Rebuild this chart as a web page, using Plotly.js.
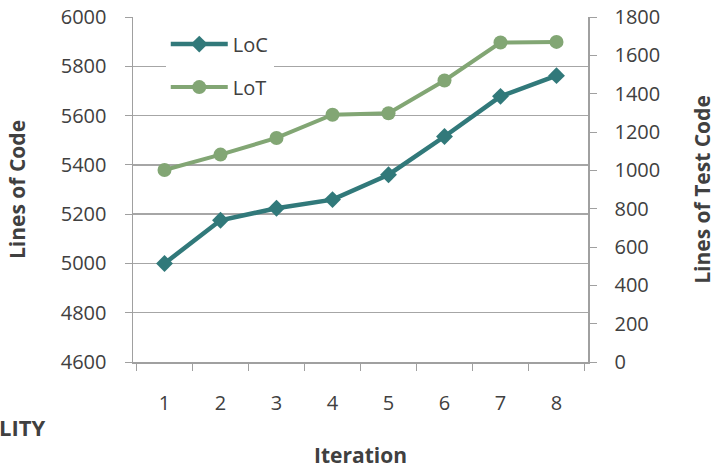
<!DOCTYPE html>
<html>
<head>
<meta charset="utf-8">
<script src="https://cdn.plot.ly/plotly-3.0.1.min.js"></script>
<style>html,body{margin:0;padding:0;background:#fff;}#chart{width:716px;height:469px;}</style>
</head>
<body>
<div id="chart"></div>
<script>
const iterations = ['1', '2', '3', '4', '5', '6', '7', '8'];
const locValues = [5000, 5175, 5224, 5259, 5360, 5515, 5678, 5762];
const lotValues = [1002, 1082, 1169, 1290, 1298, 1469, 1667, 1670];
const leftTicks = [4600, 4800, 5000, 5200, 5400, 5600, 5800, 6000];
const rightTicks = [0, 200, 400, 600, 800, 1000, 1200, 1400, 1600, 1800];

const FONT = 'Open Sans, Lato, sans-serif';
const TXT = '#404040';
const AX = '#a0a0a0';

const traces = [
  {
    x: iterations, y: locValues, name: 'LoC', type: 'scatter', mode: 'lines+markers',
    line: {color: '#31797a', width: 4.5},
    marker: {symbol: 'diamond', size: 13, color: '#31797a'},
    yaxis: 'y', legendgroup: 'a'
  },
  {
    x: iterations, y: lotValues, name: 'LoT', type: 'scatter', mode: 'lines+markers',
    line: {color: '#82a674', width: 4},
    marker: {symbol: 'circle', size: 14, color: '#82a674'},
    yaxis: 'y2', legendgroup: 'b'
  }
];

const layout = {
  width: 716, height: 469,
  margin: {l: 133, r: 128, t: 17, b: 107},
  paper_bgcolor: '#fff', plot_bgcolor: '#fff',
  font: {family: FONT, size: 20, color: TXT},
  showlegend: true,
  legend: {
    x: 0.072, y: 0.978, xanchor: 'left', yanchor: 'top',
    bgcolor: '#fff', font: {family: FONT, size: 20, color: TXT},
    tracegroupgap: 14, traceorder: 'grouped', itemwidth: 57
  },
  xaxis: {
    type: 'category', tickson: 'boundaries', ticks: 'outside', ticklen: 7,
    tickcolor: AX, showline: true, linecolor: AX, linewidth: 1.5,
    showgrid: false, zeroline: false, ticklabelstandoff: 22,
    tickfont: {family: FONT, size: 20, color: TXT},
    title: {text: '<b>Iteration</b>', font: {family: FONT, size: 21, color: TXT}, standoff: 34}
  },
  yaxis: {
    range: [4600, 6000], tickvals: leftTicks, ticks: 'outside', ticklen: 7,
    tickcolor: AX, showline: true, linecolor: AX, linewidth: 1.5,
    showgrid: true, gridcolor: '#a6a6a6', gridwidth: 1.5, zeroline: false,
    ticklabelstandoff: 14,
    tickfont: {family: FONT, size: 20, color: TXT},
    title: {text: '<b>Lines of Code</b>', font: {family: FONT, size: 21, color: TXT}, standoff: 29}
  },
  yaxis2: {
    range: [0, 1800], tickvals: rightTicks, overlaying: 'y', side: 'right',
    ticks: 'outside', ticklen: 7, tickcolor: AX, showline: true, linecolor: AX, linewidth: 1.5,
    showgrid: false, zeroline: false, ticklabelstandoff: 14,
    tickfont: {family: FONT, size: 20, color: TXT},
    title: {text: '<b>Lines of Test Code</b>', font: {family: FONT, size: 21, color: TXT}, standoff: 36}
  },
  annotations: [
    {text: '<b>LITY</b>', xref: 'paper', yref: 'paper', x: -0.189, y: -0.188,
     xanchor: 'right', yanchor: 'middle', showarrow: false,
     font: {family: FONT, size: 22, color: TXT}}
  ]
};

Plotly.newPlot('chart', traces, layout, {displayModeBar: false, staticPlot: true});
</script>
</body>
</html>
